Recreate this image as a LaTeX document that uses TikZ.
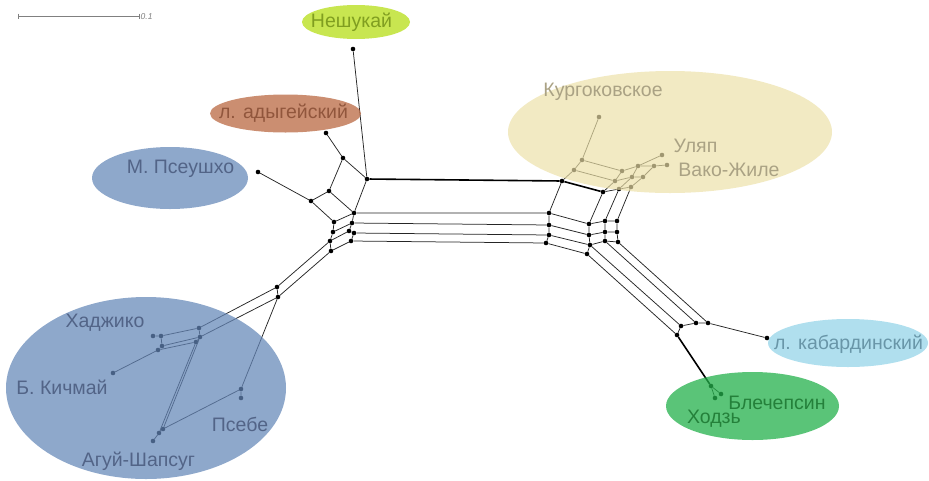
\documentclass[tikz,border=0pt]{standalone}
\usepackage{fontspec}
\setmainfont{Liberation Sans}
\definecolor{cBlue}{RGB}{99,134,183}
\definecolor{cBeige}{RGB}{236,224,167}
\definecolor{cLime}{RGB}{181,221,21}
\definecolor{cBrown}{RGB}{185,104,66}
\definecolor{cCyan}{RGB}{142,210,231}
\definecolor{cGreen}{RGB}{35,176,75}
\definecolor{tBlue}{RGB}{82,100,135}
\definecolor{tBeige}{RGB}{170,162,132}
\definecolor{tLime}{RGB}{128,158,32}
\definecolor{tBrown}{RGB}{145,86,60}
\definecolor{tCyan}{RGB}{105,150,168}
\definecolor{tGreen}{RGB}{36,128,58}
\begin{document}
\begin{tikzpicture}[x=1pt,y=-1pt,
  dot/.style={circle,fill=black,inner sep=0pt,minimum size=4.6pt},
  edge/.style={draw=black!85,line width=0.75pt},
  heavy/.style={draw=black,line width=1.6pt},
  lbl/.style={font=\fontsize{19.5}{20}\selectfont,inner sep=0pt},
  blob/.style={fill opacity=#1}]
\useasboundingbox (0,0) rectangle (929,480);

% scale bar
\draw[black!50,line width=0.8pt] (18,13.5) -- (18,18.5) (18,16) -- (139,16) (139,13.5) -- (139,18.5);
\node[anchor=west,inner sep=0pt,text=black!50,font=\fontsize{8.5}{9}\selectfont\itshape] (scale) at (140.5,17) {0.1};

% ---- left part of the network ----
\node[dot] (nes) at (353,49) {};
\node[dot] (ady) at (326,133) {};
\node[dot] (pse) at (258,172) {};
\node[dot] (A)  at (367,179) {};
\node[dot] (a1) at (343,158) {};
\node[dot] (a2) at (329,191) {};
\node[dot] (a3) at (311,201) {};
\node[dot] (P1) at (354,213) {};
\node[dot] (Q1) at (334,222) {};
\node[dot] (P2) at (352,223) {};
\node[dot] (Q2) at (333,232) {};
\node[dot] (X)  at (349,231) {};
\node[dot] (Y)  at (354,233) {};
\node[dot] (Q3) at (330,241) {};
\node[dot] (P4) at (351,241) {};
\node[dot] (Q4) at (331,251) {};

% ---- right part of the network ----
\node[dot] (B)  at (562,181) {};
\node[dot] (L1) at (549,213) {};
\node[dot] (L2) at (549,225) {};
\node[dot] (L3) at (549,235) {};
\node[dot] (L4) at (546,243) {};
\node[dot] (C)  at (603,192) {};
\node[dot] (D1) at (619,189) {};
\node[dot] (D2) at (631,187) {};
\node[dot] (M1) at (589,224) {};
\node[dot] (M2) at (589,235) {};
\node[dot] (M3) at (590,245) {};
\node[dot] (M4) at (587,254) {};
\node[dot] (R1a) at (605,221) {};
\node[dot] (R1b) at (605,232) {};
\node[dot] (R1c) at (605,241) {};
\node[dot] (R2a) at (617,221) {};
\node[dot] (R2b) at (617,232) {};
\node[dot] (R2c) at (618,242) {};

% upper right cluster
\node[dot] (k0) at (599,117) {};
\node[dot] (k1) at (582,160) {};
\node[dot] (k2) at (574,170) {};
\node[dot] (k3) at (622,171) {};
\node[dot] (k4) at (615,181) {};
\node[dot] (k5) at (638,166) {};
\node[dot] (k6) at (654,166) {};
\node[dot] (k7) at (632,177) {};
\node[dot] (k8) at (643,177) {};
\node[dot] (ul) at (662,155) {};
\node[dot] (vk) at (667,165) {};

% lower right
\node[dot] (E1) at (677,335) {};
\node[dot] (E2) at (681,326) {};
\node[dot] (E3) at (696,323) {};
\node[dot] (E4) at (708,323) {};
\node[dot] (kab) at (767,338) {};
\node[dot] (F) at (711,386) {};
\node[dot] (bl1) at (721,394) {};
\node[dot] (bl2) at (715,398) {};

% lower left
\node[dot] (G1) at (277,287) {};
\node[dot] (G2) at (278,297) {};
\node[dot] (H1) at (199,328) {};
\node[dot] (H2) at (200,337) {};
\node[dot] (H3) at (196,342) {};
\node[dot] (J1) at (161,336) {};
\node[dot] (haj) at (153,336) {};
\node[dot] (J2) at (162,346) {};
\node[dot] (J3) at (158,350) {};
\node[dot] (kich) at (113,373) {};
\node[dot] (ps1) at (241,389) {};
\node[dot] (pseb) at (241,398) {};
\node[dot] (ag1) at (163,429) {};
\node[dot] (ag2) at (159,433) {};
\node[dot] (agu) at (153,441) {};

% edges
\path[edge] (nes) -- (A) (ady) -- (a1) (a1) -- (A) (a1) -- (a2) (a2) -- (a3) (pse) -- (a3)
  (A) -- (P1) (a2) -- (P1) (a3) -- (Q1) (Q1) -- (P1) (P1) -- (P2) (Q1) -- (Q2)
  (Q2) -- (P2) (P2) -- (X) (X) -- (Y) (Q2) -- (Q3) (Q3) -- (X) (Y) -- (P4)
  (Q3) -- (Q4) (Q4) -- (P4);
\path[heavy] (A) -- (B) (B) -- (C);
\path[edge] (P1) -- (L1) (P2) -- (L2) (Y) -- (L3) (P4) -- (L4)
  (B) -- (L1) (L1) -- (L2) (L2) -- (L3) (L3) -- (L4)
  (L1) -- (M1) (L2) -- (M2) (L3) -- (M3) (L4) -- (M4)
  (C) -- (M1) (M1) -- (M2) (M2) -- (M3) (M3) -- (M4)
  (M1) -- (R1a) (R1a) -- (R2a) (M2) -- (R1b) (R1b) -- (R2b) (M3) -- (R1c) (R1c) -- (R2c)
  (R1a) -- (R1b) (R1b) -- (R1c) (R2a) -- (R2b) (R2b) -- (R2c)
  (C) -- (D1) (D1) -- (D2) (D1) -- (R1a) (D2) -- (R2a);
\path[edge] (k0) -- (k1) (k1) -- (k2) (B) -- (k2) (k1) -- (k3) (k2) -- (k4) (k3) -- (k4)
  (k4) -- (C) (k3) -- (k5) (k5) -- (ul) (k5) -- (k6) (k6) -- (vk) (k4) -- (k7)
  (k5) -- (k7) (k7) -- (D1) (k7) -- (k8) (k8) -- (D2) (k6) -- (k8);
\path[edge] (M4) -- (E1) (M3) -- (E2) (R1c) -- (E3) (R2c) -- (E4)
  (E1) -- (E2) (E2) -- (E3) (E3) -- (E4) (E4) -- (kab) (F) -- (bl1) (F) -- (bl2);
\path[heavy] (E1) -- (F);
\path[edge] (Q3) -- (G1) (Q4) -- (G2) (G1) -- (G2) (G1) -- (H1) (G2) -- (H2) (G2) -- (ps1)
  (H1) -- (H2) (H1) -- (J1) (J1) -- (haj) (J1) -- (J2) (H2) -- (J2) (H3) -- (J3)
  (H2) -- (H3) (J2) -- (J3) (J3) -- (kich) (H2) -- (ag1) (H3) -- (ag2)
  (ag1) -- (ag2) (ag2) -- (agu) (ag1) -- (ps1) (ps1) -- (pseb);

% translucent group regions laid over the network
\fill[cLime,blob=0.75] (356,22) ellipse [x radius=54, y radius=17];
\fill[cBrown,blob=0.75] (285.5,113.5) ellipse [x radius=75.5, y radius=19];
\fill[cBlue,blob=0.72] (170,178) ellipse [x radius=78, y radius=31];
\fill[cBeige,blob=0.68] (670,132) ellipse [x radius=162, y radius=61];
\fill[cBlue,blob=0.72] (146,388) ellipse [x radius=140, y radius=91];
\fill[cCyan,blob=0.7] (848,343) ellipse [x radius=80, y radius=24];
\fill[cGreen,blob=0.75] (752.5,406) ellipse [x radius=86.5, y radius=34];

% labels
\node[lbl,text=tLime] (tNes) at (351.5,22) {Нешукай};
\node[lbl,text=tBrown] (tAdy) at (283.5,113) {л. адыгейский};
\node[lbl,text=tBlue] (tPse) at (180.5,169) {М. Псеушхо};
\node[lbl,text=tBeige] (tKur) at (603,92) {Кургоковское};
\node[lbl,text=tBeige] (tUl) at (695.5,146) {Уляп};
\node[lbl,text=tBeige] (tVak) at (729,170) {Вако-Жиле};
\node[lbl,text=tBlue] (tHad) at (105,323) {Хаджико};
\node[lbl,text=tBlue] (tKic) at (62,387) {Б. Кичмай};
\node[lbl,text=tBlue] (tPsb) at (240,424) {Псебе};
\node[lbl,text=tBlue] (tAgu) at (138.5,461) {Агуй-Шапсуг};
\node[lbl,text=tCyan] (tKab) at (848.5,344) {л. кабардинский};
\node[lbl,text=tGreen] (tBle) at (777,403) {Блечепсин};
\node[lbl,text=tGreen] (tHod) at (714,419) {Ходзь};
\end{tikzpicture}
\end{document}
